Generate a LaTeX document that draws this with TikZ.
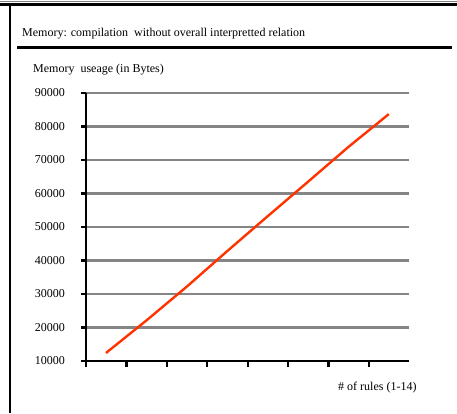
\documentclass[tikz,border=0pt]{standalone}
\usepackage{fontspec}
\setmainfont{Liberation Serif}
\usetikzlibrary{positioning}
\definecolor{gridgray}{HTML}{858585}
\definecolor{memred}{HTML}{FF3300}

\begin{document}
\begin{tikzpicture}[x=1pt,y=-1pt, every node/.style={font=\fontsize{12}{14}\selectfont,inner sep=0pt},
  axis/.style={line width=2.2pt}, gridline/.style={gridgray,line width=2.5pt}]
\useasboundingbox (0,0) rectangle (457,413);
% outer frame and title bar
\draw[gray,line width=1pt] (0,1) -- (457,1);
\draw[line width=2.6pt] (0,4.5) -- (457,4.5);
\draw[line width=2.6pt] (10,3.5) -- (10,413);
\node[anchor=west] (title) at (22,33.5) {Memory: compilation\ \ without overall interpretted relation};
\draw[line width=2.6pt] (17,47.5) -- (452,47.5);
% value axis with grid (labels in units of 10000)
\node[anchor=west] (ytitle) at (33,70) {Memory\ \ useage (in Bytes)};
\foreach \v [count=\i from 0] in {1,...,9} {
  \node[anchor=east] (y\i) at (65,361-33.5*\i) {\v0000};
  \ifnum\i>0 \draw[gridline] (86,361-33.5*\i) -- (409,361-33.5*\i); \fi
  \draw[axis] (81,361-33.5*\i) -- (86,361-33.5*\i);
}
\draw[axis] (86,92.5) -- (86,361);
\draw[axis] (81,361) -- (409,361);
\foreach \k in {0,...,7} \draw[axis] (86+40.4*\k,361) -- ++(0,5.5);
\node[anchor=west] (xtitle) at (338,388) {\# of rules (1-14)};
% memory per number of rules, in thousands of bytes
\draw[memred,line width=2.4pt,line join=round] plot coordinates {
  ({106+40.4*0},{361-3.35*(12.4-10)})
  ({106+40.4*1},{361-3.35*(22.1-10)})
  ({106+40.4*2},{361-3.35*(32.2-10)})
  ({106+40.4*3},{361-3.35*(42.8-10)})
  ({106+40.4*4},{361-3.35*(53.2-10)})
  ({106+40.4*5},{361-3.35*(63.5-10)})
  ({106+40.4*6},{361-3.35*(73.9-10)})
  ({106+40.4*7},{361-3.35*(83.7-10)})};
\end{tikzpicture}
\end{document}
